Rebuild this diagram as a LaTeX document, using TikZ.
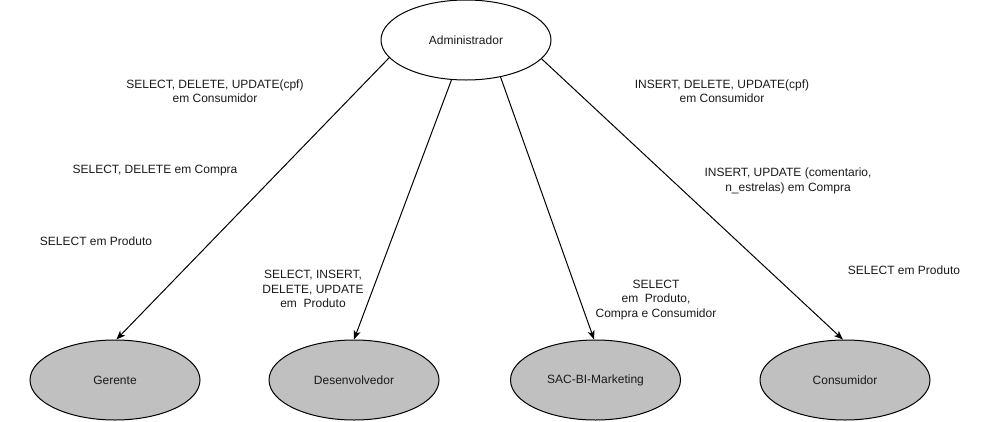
\documentclass[tikz,border=0pt]{standalone}
\usepackage{fontspec}
\setmainfont{Liberation Sans}
\usetikzlibrary{shapes.geometric,arrows.meta}
\definecolor{rolefill}{HTML}{C0C0C0}
\definecolor{txt}{HTML}{1A1A1A}
\tikzset{
  role/.style={ellipse, draw=black, line width=1pt, minimum width=170pt, minimum height=80pt, inner sep=0pt, text=txt, font=\fontsize{12}{14.5}\selectfont},
  rolegray/.style={role, fill=rolefill},
  rolewhite/.style={role, fill=white},
  perm/.style={align=center, inner sep=0pt, text=txt, font=\fontsize{12}{14.5}\selectfont},
  link/.style={draw=black, line width=1pt, -{Stealth[length=9pt, width=7pt, inset=2.5pt]}}
}
\begin{document}
\begin{tikzpicture}[x=1pt, y=-1pt]
\useasboundingbox (0,0) rectangle (1001,421);
\node[rolewhite] (adm) at (466,40) {Administrador};
\node[rolegray] (ger) at (115,380) {Gerente};
\node[rolegray] (dev) at (354,380) {Desenvolvedor};
\node[rolegray] (sac) at (595.5,380) {SAC-BI-Marketing};
\node[rolegray] (con) at (845,380) {Consumidor};

\draw[link] (adm.193) -- (ger.88);
\draw[link] (adm.250) -- (dev.north);
\draw[link] (adm.313) -- (sac.92);
\draw[link] (adm.346) -- (con.93);

\node[perm] (p1) at (215,91) {SELECT, DELETE, UPDATE(cpf)\\em Consumidor};
\node[perm] (p2) at (155,171) {SELECT, DELETE em Compra};
\node[perm] (p3) at (96,241) {SELECT em Produto};
\node[perm] (p4) at (313,289) {SELECT, INSERT,\\DELETE, UPDATE\\em\ \ Produto};
\node[perm] (p5) at (656,300) {SELECT\\em\ \ Produto,\\Compra e Consumidor};
\node[perm] (p6) at (722,91) {INSERT, DELETE, UPDATE(cpf)\\em Consumidor};
\node[perm] (p7) at (788,181) {INSERT, UPDATE (comentario,\\n\_estrelas) em Compra};
\node[perm] (p8) at (904,270) {SELECT em Produto};
\end{tikzpicture}
\end{document}
